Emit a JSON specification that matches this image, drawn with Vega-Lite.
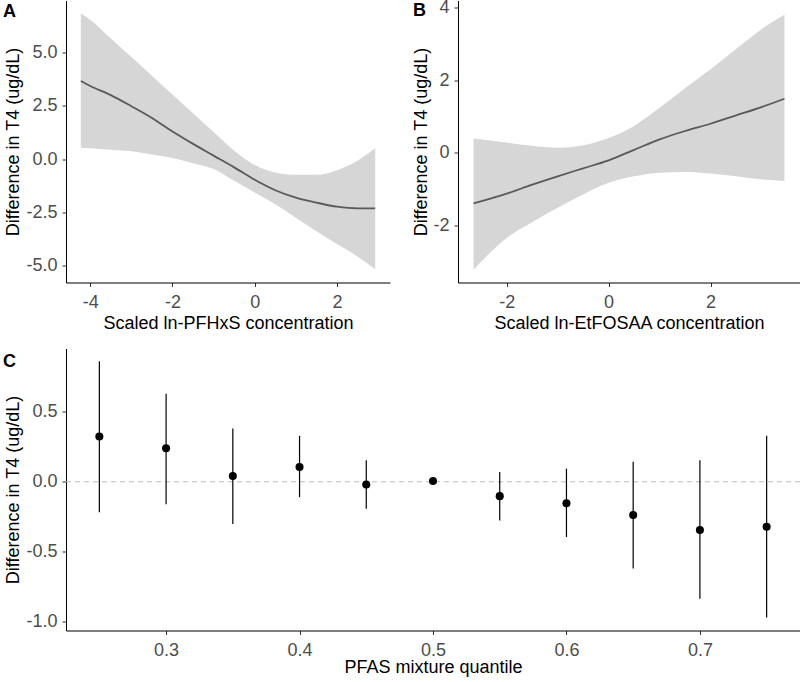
{
  "$schema": "https://vega.github.io/schema/vega-lite/v6.json",
  "background": "white",
  "padding": {"left": 3, "top": -1.5, "right": 0, "bottom": 0},
  "datasets": {
    "pfhxs": [
      {"x": -4.23, "fit": 3.65, "lo": 0.53, "hi": 6.81},
      {"x": -4.0, "fit": 3.42, "lo": 0.50, "hi": 6.52},
      {"x": -3.5, "fit": 2.99, "lo": 0.43, "hi": 5.64},
      {"x": -3.0, "fit": 2.47, "lo": 0.36, "hi": 4.78},
      {"x": -2.5, "fit": 1.92, "lo": 0.21, "hi": 3.90},
      {"x": -2.0, "fit": 1.29, "lo": 0.05, "hi": 3.02},
      {"x": -1.5, "fit": 0.71, "lo": -0.20, "hi": 2.14},
      {"x": -1.0, "fit": 0.16, "lo": -0.47, "hi": 1.26},
      {"x": -0.5, "fit": -0.39, "lo": -1.02, "hi": 0.39},
      {"x": 0.0, "fit": -0.97, "lo": -1.57, "hi": -0.28},
      {"x": 0.5, "fit": -1.46, "lo": -2.12, "hi": -0.63},
      {"x": 1.0, "fit": -1.81, "lo": -2.75, "hi": -0.74},
      {"x": 1.5, "fit": -2.04, "lo": -3.38, "hi": -0.74},
      {"x": 2.0, "fit": -2.23, "lo": -3.98, "hi": -0.52},
      {"x": 2.5, "fit": -2.31, "lo": -4.56, "hi": -0.08},
      {"x": 2.93, "fit": -2.31, "lo": -5.16, "hi": 0.50}
    ],
    "etfosaa": [
      {"x": -2.65, "fit": -1.40, "lo": -3.23, "hi": 0.39},
      {"x": -2.0, "fit": -1.13, "lo": -2.35, "hi": 0.28},
      {"x": -1.5, "fit": -0.88, "lo": -1.92, "hi": 0.19},
      {"x": -1.0, "fit": -0.65, "lo": -1.52, "hi": 0.14},
      {"x": -0.5, "fit": -0.43, "lo": -1.15, "hi": 0.21},
      {"x": 0.0, "fit": -0.21, "lo": -0.83, "hi": 0.41},
      {"x": 0.5, "fit": 0.08, "lo": -0.65, "hi": 0.74},
      {"x": 1.0, "fit": 0.37, "lo": -0.55, "hi": 1.24},
      {"x": 1.5, "fit": 0.60, "lo": -0.53, "hi": 1.78},
      {"x": 2.0, "fit": 0.80, "lo": -0.57, "hi": 2.30},
      {"x": 2.5, "fit": 1.03, "lo": -0.65, "hi": 2.86},
      {"x": 3.0, "fit": 1.26, "lo": -0.74, "hi": 3.41},
      {"x": 3.45, "fit": 1.49, "lo": -0.78, "hi": 3.81}
    ],
    "mix": [
      {"q": 0.25, "est": 0.324, "lo": -0.218, "hi": 0.864},
      {"q": 0.30, "est": 0.240, "lo": -0.161, "hi": 0.631},
      {"q": 0.35, "est": 0.041, "lo": -0.302, "hi": 0.382},
      {"q": 0.40, "est": 0.106, "lo": -0.110, "hi": 0.329},
      {"q": 0.45, "est": -0.019, "lo": -0.194, "hi": 0.154},
      {"q": 0.50, "est": 0.005, "lo": 0.005, "hi": 0.005},
      {"q": 0.55, "est": -0.103, "lo": -0.278, "hi": 0.070},
      {"q": 0.60, "est": -0.154, "lo": -0.396, "hi": 0.094},
      {"q": 0.65, "est": -0.238, "lo": -0.622, "hi": 0.144},
      {"q": 0.70, "est": -0.346, "lo": -0.838, "hi": 0.154},
      {"q": 0.75, "est": -0.322, "lo": -0.972, "hi": 0.329}
    ],
    "zero": [{"z": 0}]
  },
  "spacing": 16,
  "vconcat": [
    {
      "hconcat": [
        {
          "width": 324,
          "height": 282,
          "title": {"text": "A", "dx": -63, "offset": -20},
          "data": {"name": "pfhxs"},
          "layer": [
            {
              "mark": {"type": "area", "color": "#d6d6d6", "interpolate": "monotone"},
              "encoding": {
                "x": {"field": "x", "type": "quantitative", "scale": {"domain": [-4.59, 3.29], "nice": false, "zero": false}, "axis": {"values": [-4, -2, 0, 2], "format": "d", "title": "Scaled ln-PFHxS concentration"}},
                "y": {"field": "lo", "type": "quantitative", "scale": {"domain": [-5.78, 7.42], "nice": false, "zero": false}, "axis": {"values": [-5, -2.5, 0, 2.5, 5], "format": ".1f", "title": "Difference in T4 (ug/dL)"}},
                "y2": {"field": "hi"}
              }
            },
            {
              "mark": {"type": "line", "color": "#595959", "strokeWidth": 1.8, "interpolate": "monotone"},
              "encoding": {
                "x": {"field": "x", "type": "quantitative"},
                "y": {"field": "fit", "type": "quantitative"}
              }
            }
          ]
        },
        {
          "width": 342,
          "height": 282,
          "title": {"text": "B", "dx": -45, "offset": -21.5},
          "data": {"name": "etfosaa"},
          "layer": [
            {
              "mark": {"type": "area", "color": "#d6d6d6", "interpolate": "monotone"},
              "encoding": {
                "x": {"field": "x", "type": "quantitative", "scale": {"domain": [-2.955, 3.755], "nice": false, "zero": false}, "axis": {"values": [-2, 0, 2], "format": "d", "title": "Scaled ln-EtFOSAA concentration"}},
                "y": {"field": "lo", "type": "quantitative", "scale": {"domain": [-3.58, 4.2], "nice": false, "zero": false}, "axis": {"values": [-2, 0, 2, 4], "format": "d", "title": "Difference in T4 (ug/dL)", "titleX": -32}},
                "y2": {"field": "hi"}
              }
            },
            {
              "mark": {"type": "line", "color": "#595959", "strokeWidth": 1.8, "interpolate": "monotone"},
              "encoding": {
                "x": {"field": "x", "type": "quantitative"},
                "y": {"field": "fit", "type": "quantitative"}
              }
            }
          ]
        }
      ],
      "spacing": 68,
      "bounds": "flush"
    },
    {
      "width": 734,
      "height": 282,
      "title": {"text": "C", "dx": -63, "offset": -22},
      "layer": [
        {
          "data": {"name": "zero"},
          "mark": {"type": "rule", "color": "#bdbdbd", "strokeWidth": 1, "strokeDash": [5, 4]},
          "encoding": {
            "y": {"field": "z", "type": "quantitative", "scale": {"domain": [-1.066, 0.955], "nice": false, "zero": false}, "axis": {"values": [-1, -0.5, 0, 0.5], "format": ".1f", "title": "Difference in T4 (ug/dL)"}}
          }
        },
        {
          "data": {"name": "mix"},
          "mark": {"type": "rule", "color": "#000000", "strokeWidth": 1.2},
          "encoding": {
            "x": {"field": "q", "type": "quantitative", "scale": {"domain": [0.225, 0.775], "nice": false, "zero": false}, "axis": {"values": [0.3, 0.4, 0.5, 0.6, 0.7], "format": ".1f", "title": "PFAS mixture quantile", "titleY": 41.5}},
            "y": {"field": "lo", "type": "quantitative"},
            "y2": {"field": "hi"}
          }
        },
        {
          "data": {"name": "mix"},
          "mark": {"type": "circle", "color": "#000000", "opacity": 1, "size": 65},
          "encoding": {
            "x": {"field": "q", "type": "quantitative"},
            "y": {"field": "est", "type": "quantitative"}
          }
        }
      ]
    }
  ],
  "config": {
    "font": "Liberation Sans",
    "view": {"stroke": null},
    "locale": {"number": {"decimal": ".", "thousands": ",", "grouping": [3], "currency": ["$", ""], "minus": "-"}},
    "title": {"anchor": "start", "frame": "group", "fontSize": 18, "fontWeight": "bold", "color": "#000000", "baseline": "alphabetic", "font": "Liberation Sans"},
    "axis": {
      "grid": false,
      "domainColor": "#000000",
      "domainWidth": 1,
      "tickColor": "#333333",
      "tickSize": 4,
      "tickWidth": 1,
      "labelFont": "Liberation Sans",
      "labelFontSize": 18,
      "labelColor": "#4d4d4d",
      "titleFont": "Liberation Sans",
      "titleFontSize": 18,
      "titleFontWeight": "normal",
      "titleColor": "#000000",
      "labelFlush": false,
      "labelOverlap": false
    },
    "axisX": {"labelPadding": 20.7, "labelBaseline": "alphabetic", "titleY": 46, "titleBaseline": "alphabetic"},
    "axisY": {"labelPadding": 5, "titleX": -48, "titleBaseline": "alphabetic"}
  }
}
